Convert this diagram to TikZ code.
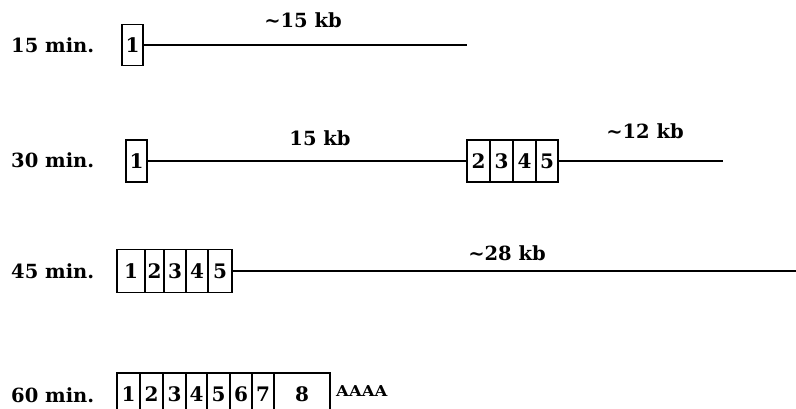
\documentclass[tikz,border=0pt]{standalone}
\usepackage{fontspec}
\setmainfont{DejaVu Serif}
\begin{document}
\begin{tikzpicture}[x=1pt,y=-1pt,
  cell/.style={draw=black,line width=1.9pt,inner sep=0pt,fill=white,
    font=\fontsize{20}{20}\selectfont\bfseries},
  lbl/.style={anchor=base west,inner sep=0pt,font=\fontsize{19.5}{19.5}\selectfont\bfseries},
  kb/.style={anchor=base,inner sep=0pt,font=\fontsize{19.5}{19.5}\selectfont\bfseries},
  dna/.style={line width=2pt}]
\clip (0,0) rectangle (796,409);
% row 1
\node[lbl] (t1) at (11,53) {15 min.};
\node[cell,minimum width=21pt,minimum height=41pt] (r1a) at (132.5,45) {1};
\coordinate (e1) at (467,45);
\draw[dna] (r1a.east) -- (e1);
\node[kb] (k1) at (303,28) {\textasciitilde 15 kb};
% row 2
\node[lbl] (t2) at (11,168) {30 min.};
\node[cell,minimum width=21pt,minimum height=42pt] (r2a) at (136.5,161) {1};
\node[cell,minimum width=23pt,minimum height=42pt] (r2b) at (478.5,161) {2};
\node[cell,minimum width=23pt,minimum height=42pt] (r2c) at (501.5,161) {3};
\node[cell,minimum width=23pt,minimum height=42pt] (r2d) at (524.5,161) {4};
\node[cell,minimum width=22pt,minimum height=42pt] (r2e) at (547,161) {5};
\coordinate (e2) at (723,161);
\draw[dna] (r2a.east) -- (r2b.west);
\draw[dna] (r2e.east) -- (e2);
\node[kb] (k2) at (320,146) {15 kb};
\node[kb] (k3) at (645,139) {\textasciitilde 12 kb};
% row 3
\node[lbl] (t3) at (11,278) {45 min.};
\node[cell,minimum width=28pt,minimum height=43pt] (r3a) at (131,271) {1};
\node[cell,minimum width=19pt,minimum height=43pt] (r3b) at (154.5,271) {2};
\node[cell,minimum width=22pt,minimum height=43pt] (r3c) at (175,271) {3};
\node[cell,minimum width=22pt,minimum height=43pt] (r3d) at (197,271) {4};
\node[cell,minimum width=24pt,minimum height=43pt] (r3e) at (220,271) {5};
\coordinate (e3) at (800,271);
\draw[dna] (r3e.east) -- (e3);
\node[kb] (k4) at (507,260) {\textasciitilde 28 kb};
% row 4
\node[lbl] (t4) at (11,402) {60 min.};
\node[cell,minimum width=23pt,minimum height=43pt] (r4a) at (128.5,394.5) {1};
\node[cell,minimum width=23pt,minimum height=43pt] (r4b) at (151.5,394.5) {2};
\node[cell,minimum width=23pt,minimum height=43pt] (r4c) at (174.5,394.5) {3};
\node[cell,minimum width=21pt,minimum height=43pt] (r4d) at (196.5,394.5) {4};
\node[cell,minimum width=23pt,minimum height=43pt] (r4e) at (218.5,394.5) {5};
\node[cell,minimum width=22pt,minimum height=43pt] (r4f) at (241,394.5) {6};
\node[cell,minimum width=22pt,minimum height=43pt] (r4g) at (263,394.5) {7};
\node[cell,minimum width=56pt,minimum height=43pt] (r4h) at (302,394.5) {8};
\node[anchor=base west,inner sep=0pt,font=\fontsize{15}{15}\selectfont\bfseries] (pa) at (336,396) {\scalebox{1.1}[1]{AAAA}};
\end{tikzpicture}
\end{document}
